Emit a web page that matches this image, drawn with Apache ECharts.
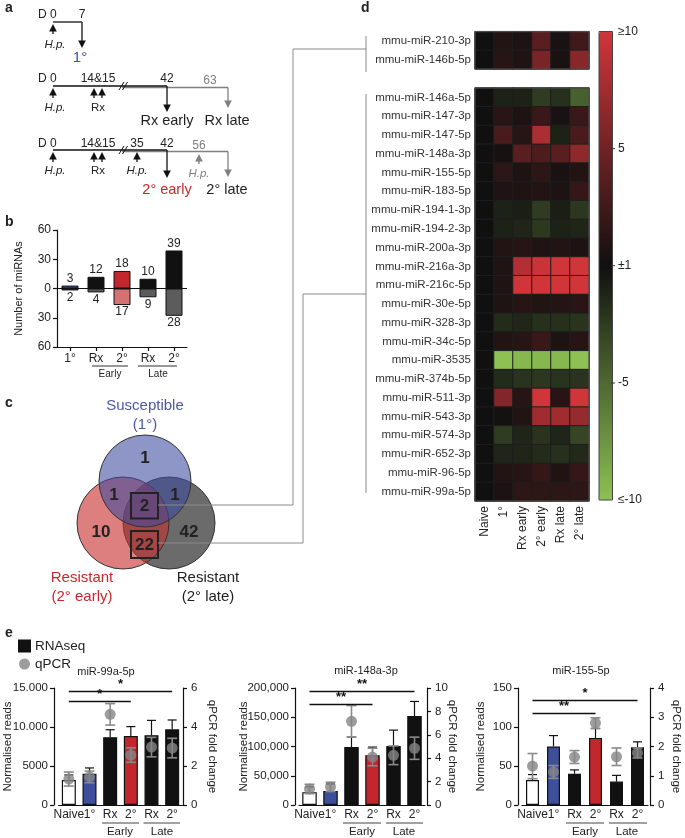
<!DOCTYPE html>
<html><head><meta charset="utf-8">
<script src="https://cdn.jsdelivr.net/npm/echarts@6/dist/echarts.min.js"></script>
<style>html,body{margin:0;padding:0;background:#fff}#c{width:685px;height:838px}</style>
</head><body><div id="c"></div><script>
// ================= DATA =================
// panel b
const bCats = ['1°','Rx','2°','Rx','2°'];
const bUp = [3, 12, 18, 10, 39];
const bDown = [2, 4, 17, 9, 28];
const bTicks = ['60','30','0','30','60'];
// panel c
const vennCounts = { only1: 1, s1e2: 1, all: 2, s1l2: 1, only2e: 10, only2l: 42, e2l2: 22 };
// panel d
const heatCols = ['Naive','1°','Rx early','2° early','Rx late','2° late'];
const heatTopRows = ['mmu-miR-210-3p','mmu-miR-146b-5p'];
const heatTopVals = [
  [0, 1.0, 0.7, 3.8, 0.5, 2.5],
  [0, 1.2, 0.8, 5.5, 0.5, 6.2]
];
const heatBotRows = ['mmu-miR-146a-5p','mmu-miR-147-3p','mmu-miR-147-5p','mmu-miR-148a-3p','mmu-miR-155-5p','mmu-miR-183-5p','mmu-miR-194-1-3p','mmu-miR-194-2-3p','mmu-miR-200a-3p','mmu-miR-216a-3p','mmu-miR-216c-5p','mmu-miR-30e-5p','mmu-miR-328-3p','mmu-miR-34c-5p','mmu-miR-3535','mmu-miR-374b-5p','mmu-miR-511-3p','mmu-miR-543-3p','mmu-miR-574-3p','mmu-miR-652-3p','mmu-miR-96-5p','mmu-miR-99a-5p'];
const heatBotVals = [
  [0, -1.0, -1.0, -2.5, -1.8, -4.5],
  [0, 1.3, 0.7, 2.2, 0.5, 2.2],
  [0, 3.0, 1.2, 8.0, -1.0, 3.0],
  [0, 0.4, 3.8, 3.2, 3.8, 6.5],
  [0, 1.5, 0.7, 1.5, 0.5, 1.0],
  [0, 0.8, 0.8, 1.0, 0.7, 2.0],
  [0, -1.0, -0.8, -2.5, -0.8, -2.2],
  [0, -1.0, -1.2, -2.3, -1.0, -1.2],
  [0, 1.0, 1.2, 0.8, 1.0, 0.7],
  [0, 0.8, 8.5, 9.7, 10, 10],
  [0, 0.8, 10, 10, 10, 10],
  [0, 0.8, 1.2, 1.0, 1.1, 1.3],
  [0, -1.5, -1.3, -1.8, -1.8, -2.0],
  [0, 1.0, 1.2, 2.2, 0.7, 1.2],
  [0, -10, -9.5, -9.5, -9.5, -10],
  [0, -1.5, -2.0, -2.2, -2.0, -2.0],
  [0, 6.0, 1.2, 10, 1.2, 10],
  [0, 0.2, 1.0, 7.5, 7.5, 7.0],
  [0, -2.5, -1.2, -2.0, -1.2, -3.0],
  [0, -1.2, -1.2, -1.5, -1.8, -1.4],
  [0, 1.0, 1.2, 2.0, 0.8, 2.0],
  [0, 0.6, 1.5, 1.5, 1.5, 1.5]
];
const colorbarLabels = ['≥10','5','±1','-5','≤-10'];
// panel e
const eCats = ['Naive','1°','Rx','2°','Rx','2°'];
const e1Title = 'miR-99a-5p';
const e1Reads = [3200, 4000, 8700, 8850, 8950, 9700];
const e1ReadsErr = [650, 750, 950, 1200, 1900, 1200];
const e1Q = [1.33, 1.44, 4.65, 2.56, 2.97, 2.92];
const e1QErr = [0.36, 0.3, 0.55, 0.37, 0.5, 0.5];
const e1LeftTicks = ['0','5000','10.000','15.000'];
const e1RightTicks = ['0','2','4','6'];
const e1Sig = [{a:0, b:5, y:14600, t:'*'}, {a:0, b:3, y:13300, t:'*'}];

const e2Title = 'miR-148a-3p';
const e2Reads = [22000, 24000, 99000, 85000, 101000, 152000];
const e2ReadsErr = [9000, 12000, 17000, 14000, 27000, 25000];
const e2Q = [1.37, 1.54, 7.15, 4.1, 4.25, 4.85];
const e2QErr = [0.4, 0.4, 1.35, 0.75, 0.8, 0.95];
const e2LeftTicks = ['0','50,000','100,000','150,000','200,000'];
const e2RightTicks = ['0','2','4','6','8','10'];
const e2Sig = [{a:0, b:5, y:195000, t:'**'}, {a:0, b:3, y:172600, t:'**'}];

const e3Title = 'miR-155-5p';
const e3Reads = [32, 75, 40, 86, 30, 74];
const e3ReadsErr = [7, 14, 5, 12, 8, 7];
const e3Q = [1.33, 1.13, 1.64, 2.8, 1.65, 1.78];
const e3QErr = [0.43, 0.22, 0.22, 0.18, 0.3, 0.17];
const e3LeftTicks = ['0','50','100','150'];
const e3RightTicks = ['0','1','2','3','4'];
const e3Sig = [{a:0, b:5, y:134.6, t:'*'}, {a:0, b:3, y:118, t:'**'}];

// ================= STYLE =================
const FONT = 'Liberation Sans, Arial, Helvetica, sans-serif';
const INK = '#111';
const bUpColors = ['#3d4f9b','#111111','#c1272d','#111111','#111111'];
const bDownColors = ['#3d4f9b','#5c5c5c','#d47272','#5c5c5c','#5c5c5c'];
const eBarColors = ['#ffffff','#3d4f9b','#111111','#c1272d','#111111','#111111'];

const G = [];
function T(s, x, y, o) {
  o = o || {};
  G.push({type:'text', x:x, y:y, z:100, silent:true, rotation:o.r||0,
    style:{text:s, fill:o.c||'#222', fontSize:o.s||12, fontFamily:FONT,
      fontStyle:o.it?'italic':'normal', fontWeight:o.b?'bold':'normal',
      align:o.a||'center', verticalAlign:o.v||'middle'}});
}
function L(x1,y1,x2,y2,c,w){G.push({type:'line', z:100, silent:true, shape:{x1:x1,y1:y1,x2:x2,y2:y2}, style:{stroke:c||INK, lineWidth:w||1.3}});}
function PL(pts,c,w){G.push({type:'polyline', z:100, silent:true, shape:{points:pts}, style:{stroke:c||INK, lineWidth:w||1, fill:null}});}
function TRI(pts,c){G.push({type:'polygon', z:100, silent:true, shape:{points:pts}, style:{fill:c||INK}});}
function arrowDown(x,y1,y2,c){L(x,y1,x,y2-6,c); TRI([[x-3.8,y2-7.5],[x+3.8,y2-7.5],[x,y2]],c);}
function arrowUp(x,y1,y2,c){L(x,y1,x,y2+6,c); TRI([[x-3.8,y2+7.5],[x+3.8,y2+7.5],[x,y2]],c);}
function RECT(x,y,w,h,c,lw,z){G.push({type:'rect', z:z||100, silent:true, shape:{x:x,y:y,width:w,height:h}, style:{fill:null, stroke:c||'#555', lineWidth:lw||1}});}
function CIRC(cx,cy,r,fill){G.push({type:'circle', z:90, silent:true, shape:{cx:cx,cy:cy,r:r}, style:{fill:fill, stroke:'#333', lineWidth:1}});}

const GRAY = '#808080';
// panel letters
T('a',5,8,{b:true,s:14,a:'left'}); T('b',5,222,{b:true,s:14,a:'left'});
T('c',5,403,{b:true,s:14,a:'left'}); T('d',361,8,{b:true,s:14,a:'left'});
T('e',5,633,{b:true,s:14,a:'left'});

// ---- panel a: timelines ----
// 1
T('D 0',38,15,{a:'left'}); T('7',82,15);
L(53,22,82,22); arrowDown(82,22,48); arrowUp(53,34,24);
T('H.p.',55,45,{it:true,s:11.5}); T('1°',80,58,{s:15,c:'#3a4ea6'});
// 2
T('D 0',38,79,{a:'left'}); T('14&15',98,79); T('42',167,79); T('63',210,81,{c:GRAY});
L(122,87.5,228,87.5,GRAY); L(53,86,167,86);
L(119,90,124,82,INK,1); L(122.5,90,127.5,82,INK,1);
arrowDown(167,86,112); arrowDown(228,87.5,108,GRAY);
arrowUp(53,98,88); arrowUp(94,98,88); arrowUp(102,98,88);
T('H.p.',55,108,{it:true,s:11.5}); T('Rx',98,108,{s:11.5});
T('Rx early',167,121,{s:14.5}); T('Rx late',227,121,{s:14.5});
// 3
T('D 0',38,144,{a:'left'}); T('14&15',98,144); T('35',137,144); T('42',167,144); T('56',199,146,{c:GRAY});
L(122,151.5,228,151.5,GRAY); L(53,150,167,150);
L(119,154,124,146,INK,1); L(122.5,154,127.5,146,INK,1);
arrowDown(167,150,178); arrowDown(228,151.5,177,GRAY);
arrowUp(53,162,152); arrowUp(94,162,152); arrowUp(102,162,152); arrowUp(137,162,152);
arrowUp(199,164,154,GRAY);
T('H.p.',55,171,{it:true,s:11.5}); T('Rx',98,171,{s:11.5}); T('H.p.',137,171,{it:true,s:11.5});
T('H.p.',199,174,{it:true,s:11.5,c:GRAY});
T('2° early',167,190,{s:14.5,c:'#c8282d'}); T('2° late',227,190,{s:14.5});

// ---- panel b group labels ----
L(92,366,128,366,'#333',1); L(138,366,177,366,'#333',1);
T('Early',110,374,{s:10}); T('Late',158,374,{s:10});

// ---- panel c: venn ----
CIRC(169,523,46,'#6b6b6b');
CIRC(123,523,46,'rgba(200,48,48,0.62)');
CIRC(145,481,46,'rgba(58,74,156,0.58)');
RECT(131,493,27,25.5,'#222',2);
RECT(131,531,27,27,'#222',2);
T(String(vennCounts.only1),145,458,{b:true,s:17});
T(String(vennCounts.s1e2),114,495,{b:true,s:17});
T(String(vennCounts.s1l2),175,495,{b:true,s:17});
T(String(vennCounts.all),144.5,506,{b:true,s:17});
T(String(vennCounts.only2e),101,532,{b:true,s:17});
T(String(vennCounts.only2l),189,532,{b:true,s:17});
T(String(vennCounts.e2l2),144.5,545,{b:true,s:17});
T('Susceptible',145,406,{s:15,c:'#4a58a8'}); T('(1°)',145,425,{s:15,c:'#4a58a8'});
T('Resistant',82,578,{s:15,c:'#c8282d'}); T('(2° early)',82,597,{s:15,c:'#c8282d'});
T('Resistant',208,578,{s:15}); T('(2° late)',208,597,{s:15});

// connectors to heatmap
const LG = '#8a8a8a';
PL([[158,505],[293,505],[293,49],[366,49]],LG,1);
L(366,36,366,72,LG,1);
PL([[158,543],[303,543],[303,294],[366,294]],LG,1);
L(366,94,366,493,LG,1);

// ---- panel d: block borders, colorbar ----
RECT(475,31.7,114,37.3,'#555',1);
RECT(475,88,114,413,'#555',1);
RECT(599,31.5,13.5,468.5,'#444',1);
const cbY = [31.5,148.6,265.7,383,500];
colorbarLabels.forEach((s,i)=>{ T(s,618,cbY[i],{a:'left',s:12}); if(i>0&&i<4) L(611,cbY[i],615,cbY[i],'#333',1); });

// ---- panel e: titles & group labels ----
T(e1Title,106,672,{s:11}); T(e2Title,366,671,{s:11}); T(e3Title,581,671,{s:11});
[[102,139,143.5,180,120,162],[343,381,386,423,362,404],[566,604,609,647,585,627]].forEach(g=>{
  L(g[0],823,g[1],823,'#444',1.2); L(g[2],823,g[3],823,'#444',1.2);
  T('Early',g[4],832,{s:11.5}); T('Late',g[5],832,{s:11.5});
});

// ================= CHART =================
function errUp(params, api){
  const i=api.value(0), m=api.value(1), e=api.value(2);
  const p0=api.coord([i,m]), p1=api.coord([i,m+e]);
  const st={stroke:'#111', lineWidth:1.2};
  return {type:'group', children:[
    {type:'line', shape:{x1:p0[0],y1:p0[1],x2:p1[0],y2:p1[1]}, style:st},
    {type:'line', shape:{x1:p1[0]-4.5,y1:p1[1],x2:p1[0]+4.5,y2:p1[1]}, style:st}]};
}
function errBoth(params, api){
  const i=api.value(0), m=api.value(1), e=api.value(2);
  const p0=api.coord([i,m-e]), p1=api.coord([i,m+e]);
  const st={stroke:'#8a8a8a', lineWidth:1.6};
  return {type:'group', children:[
    {type:'line', shape:{x1:p0[0],y1:p0[1],x2:p1[0],y2:p1[1]}, style:st},
    {type:'line', shape:{x1:p1[0]-5,y1:p1[1],x2:p1[0]+5,y2:p1[1]}, style:st},
    {type:'line', shape:{x1:p0[0]-5,y1:p0[1],x2:p0[0]+5,y2:p0[1]}, style:st}]};
}
const axLine = {show:true, lineStyle:{color:INK, width:1.2}};
const axTick = {show:true, inside:false, length:4, lineStyle:{color:INK, width:1.2}};

const grids = [
  {left:57, top:230, width:130, height:117},
  {left:475, top:31.7, width:114, height:37.3},
  {left:475, top:88, width:114, height:413},
  {left:58.5, top:688, width:124, height:117},
  {left:299, top:688, width:126, height:117},
  {left:522, top:688, width:126, height:117}
].map(g=>Object.assign({containLabel:false, outerBoundsMode:'none'}, g));

const xAxes = [
  {gridIndex:0, type:'category', data:bCats, axisLine:Object.assign({onZero:false},axLine), axisTick:Object.assign({alignWithLabel:true},axTick),
    axisLabel:{interval:0, fontSize:12, color:'#222', margin:6, fontFamily:FONT}},
  {gridIndex:1, type:'category', data:heatCols, show:false},
  {gridIndex:2, type:'category', data:heatCols, axisLine:{show:false}, axisTick:{show:false},
    axisLabel:{interval:0, rotate:90, fontSize:12, color:'#222', margin:5, fontFamily:FONT}}
];
const yAxes = [
  {gridIndex:0, type:'value', min:-60, max:60, interval:30, axisLine:axLine, axisTick:axTick, splitLine:{show:false},
    axisLabel:{formatter:(v,i)=>bTicks[i], fontSize:12, color:'#222', margin:6, fontFamily:FONT},
    name:'Number of miRNAs', nameLocation:'middle', nameGap:33, nameRotate:90, nameMoveOverlap:false, nameTextStyle:{fontSize:11, color:'#222', fontFamily:FONT}},
  {gridIndex:1, type:'category', data:heatTopRows, inverse:true, axisLine:{show:false}, axisTick:{show:false},
    axisLabel:{interval:0, fontSize:11.5, color:'#333', margin:4, fontFamily:FONT}},
  {gridIndex:2, type:'category', data:heatBotRows, inverse:true, axisLine:{show:false}, axisTick:{show:false},
    axisLabel:{interval:0, fontSize:11.5, color:'#333', margin:4, fontFamily:FONT}}
];
const series = [
  {type:'bar', xAxisIndex:0, yAxisIndex:0, barWidth:17, barGap:'-100%',
    data:bUp.map((v,i)=>({value:v, itemStyle:{color:bUpColors[i]}})),
    itemStyle:{borderColor:INK, borderWidth:1},
    label:{show:true, position:'top', distance:1, fontSize:12, color:'#222', fontFamily:FONT},
    markLine:{silent:true, symbol:['none','none'], label:{show:false}, lineStyle:{color:INK, width:1.2, type:'solid'}, data:[{yAxis:0}]}},
  {type:'bar', xAxisIndex:0, yAxisIndex:0, barWidth:17, barGap:'-100%',
    data:bDown.map((v,i)=>({value:-v, itemStyle:{color:bDownColors[i]}})),
    itemStyle:{borderColor:INK, borderWidth:1},
    label:{show:true, position:'bottom', distance:1, fontSize:12, color:'#222', fontFamily:FONT, formatter:p=>Math.abs(p.value)}},
  {type:'heatmap', xAxisIndex:1, yAxisIndex:1,
    data:heatTopVals.flatMap((r,ri)=>r.map((v,ci)=>[ci,ri,v])),
    itemStyle:{borderColor:'#1e1e1e', borderWidth:1}, emphasis:{disabled:true}},
  {type:'heatmap', xAxisIndex:2, yAxisIndex:2,
    data:heatBotVals.flatMap((r,ri)=>r.map((v,ci)=>[ci,ri,v])),
    itemStyle:{borderColor:'#1e1e1e', borderWidth:1}, emphasis:{disabled:true}}
];

const panels = [
  {g:3, reads:e1Reads, rErr:e1ReadsErr, q:e1Q, qErr:e1QErr, lt:e1LeftTicks, rt:e1RightTicks, lmax:15000, lint:5000, rmax:6, rint:2, sig:e1Sig, bw:14, loff:4.5, roff:0.5, lgap:40, rgap:23},
  {g:4, reads:e2Reads, rErr:e2ReadsErr, q:e2Q, qErr:e2QErr, lt:e2LeftTicks, rt:e2RightTicks, lmax:200000, lint:50000, rmax:10, rint:2, sig:e2Sig, bw:14.5, loff:4, roff:2, lgap:45, rgap:19},
  {g:5, reads:e3Reads, rErr:e3ReadsErr, q:e3Q, qErr:e3QErr, lt:e3LeftTicks, rt:e3RightTicks, lmax:150, lint:50, rmax:4, rint:1, sig:e3Sig, bw:13, loff:4, roff:2, lgap:31, rgap:20}
];
panels.forEach(p=>{
  const xi = xAxes.length;
  xAxes.push({gridIndex:p.g, type:'category', data:eCats, axisLine:axLine, axisTick:{show:false},
    axisLabel:{interval:0, fontSize:12, color:'#222', margin:4, fontFamily:FONT}});
  const yl = yAxes.length;
  yAxes.push({gridIndex:p.g, type:'value', position:'left', offset:p.loff, min:0, max:p.lmax, interval:p.lint,
    axisLine:axLine, axisTick:axTick, splitLine:{show:false},
    axisLabel:{formatter:(v,i)=>p.lt[i], fontSize:11.5, color:'#222', margin:6, fontFamily:FONT},
    name:'Normalised reads', nameLocation:'middle', nameGap:p.lgap, nameRotate:90, nameMoveOverlap:false, nameTextStyle:{fontSize:11.5, color:'#222', fontFamily:FONT}});
  yAxes.push({gridIndex:p.g, type:'value', position:'right', offset:p.roff, min:0, max:p.rmax, interval:p.rint,
    axisLine:axLine, axisTick:axTick, splitLine:{show:false},
    axisLabel:{formatter:(v,i)=>p.rt[i], fontSize:11.5, color:'#222', margin:8, fontFamily:FONT},
    name:'qPCR fold change', nameLocation:'middle', nameGap:p.rgap, nameRotate:-90, nameMoveOverlap:false, nameTextStyle:{fontSize:11.5, color:'#222', fontFamily:FONT}});
  series.push({name:'RNAseq', type:'bar', xAxisIndex:xi, yAxisIndex:yl, barWidth:p.bw, z:2,
    data:p.reads.map((v,i)=>({value:v, itemStyle:{color:eBarColors[i]}})),
    itemStyle:{color:'#111', borderColor:INK, borderWidth:1.2},
    markLine:{silent:true, symbol:['none','none'], lineStyle:{color:INK, width:1.3, type:'solid'},
      label:{show:true, position:'middle', distance:0, fontSize:13, fontWeight:'bold', color:'#111', fontFamily:FONT},
      data:p.sig.map(s=>[{coord:[s.a,s.y], label:{formatter:s.t}},{coord:[s.b,s.y]}])}});
  series.push({name:'readsErr', type:'custom', xAxisIndex:xi, yAxisIndex:yl, z:3, renderItem:errUp,
    encode:{x:0, y:1}, data:p.reads.map((v,i)=>[i,v,p.rErr[i]])});
  series.push({name:'qErr', type:'custom', xAxisIndex:xi, yAxisIndex:yl+1, z:4, renderItem:errBoth,
    encode:{x:0, y:1}, data:p.q.map((v,i)=>[i,v,p.qErr[i]])});
  series.push({name:'qPCR', type:'scatter', xAxisIndex:xi, yAxisIndex:yl+1, z:5, symbolSize:11,
    itemStyle:{color:'#858585'}, data:p.q.map((v,i)=>[i,v])});
});

const option = {
  animation:false,
  backgroundColor:'#fff',
  textStyle:{fontFamily:FONT},
  grid:grids, xAxis:xAxes, yAxis:yAxes, series:series,
  visualMap:{type:'continuous', min:-10, max:10, seriesIndex:[2,3], calculable:false, show:true,
    left:599, top:31.5, itemWidth:13.5, itemHeight:468.5, padding:0, text:null, showLabel:false,
    inRange:{color:['#8dc153','#101010','#d0353a']}},
  legend:{left:13, top:634, orient:'vertical', itemWidth:11, itemHeight:11, itemGap:4, selectedMode:false,
    textStyle:{fontSize:13.5, color:'#222', fontFamily:FONT},
    data:[{name:'RNAseq', icon:'rect'},{name:'qPCR', icon:'circle'}]},
  graphic:{elements:G}
};
const chart = echarts.init(document.getElementById('c'), null, {renderer:'canvas'});
chart.setOption(option);
</script></body></html>
